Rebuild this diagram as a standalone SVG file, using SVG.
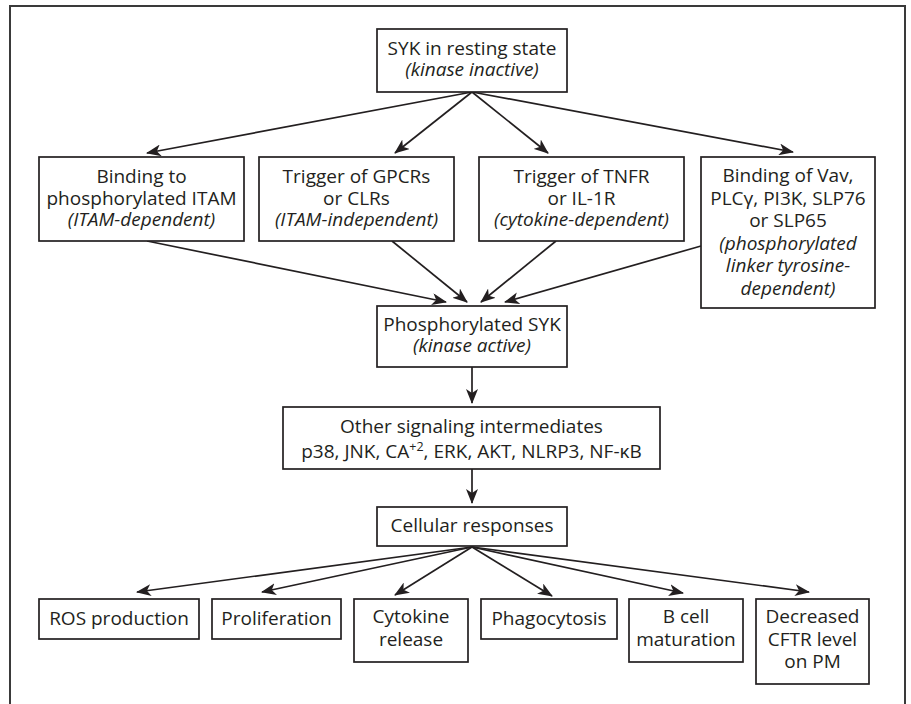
<svg xmlns="http://www.w3.org/2000/svg" width="911" height="704" viewBox="0 0 911 704">
<defs>
<marker id="ah" viewBox="0 0 15 12" refX="14" refY="6" markerWidth="15" markerHeight="12" markerUnits="userSpaceOnUse" orient="auto">
<path d="M0,0 L15,6 L0,12 L4,6 Z" fill="#231f20"/>
</marker>
<style>
.box{fill:#fff;stroke:#231f20;stroke-width:1.7}
.t{font-family:"Open Sans","Noto Sans",sans-serif;font-size:19px;fill:#231f20;text-anchor:middle}
.i{font-style:italic}
.c{stroke:#231f20;stroke-width:1.7;fill:none;marker-end:url(#ah)}
</style>
</defs>
<rect x="0" y="0" width="911" height="704" fill="#fff"/>
<path d="M10,704 L10,6 L905,6 L905,704" fill="none" stroke="#3a3a3a" stroke-width="2"/>

<g id="connectors">
<line class="c" x1="472" y1="92" x2="147" y2="153"/>
<line class="c" x1="472" y1="92" x2="395" y2="153"/>
<line class="c" x1="472" y1="92" x2="548" y2="153"/>
<line class="c" x1="472" y1="92" x2="793" y2="152"/>
<line class="c" x1="147" y1="241" x2="446" y2="302"/>
<line class="c" x1="392" y1="241" x2="467" y2="302"/>
<line class="c" x1="556" y1="241" x2="481" y2="302"/>
<line class="c" x1="701" y1="246" x2="505" y2="302"/>
<line class="c" x1="472" y1="367" x2="472" y2="403"/>
<line class="c" x1="472" y1="469" x2="472" y2="503"/>
<line class="c" x1="472" y1="547" x2="137" y2="592"/>
<line class="c" x1="472" y1="547" x2="262" y2="592"/>
<line class="c" x1="472" y1="547" x2="395" y2="595"/>
<line class="c" x1="472" y1="547" x2="552" y2="596"/>
<line class="c" x1="472" y1="547" x2="683" y2="593"/>
<line class="c" x1="472" y1="547" x2="809" y2="592"/>
</g>

<g id="syk-resting">
<rect class="box" x="377" y="29" width="190" height="63"/>
<text class="t" x="472" y="55">SYK in resting state</text>
<text class="t i" x="472" y="76">(kinase inactive)</text>
</g>

<g id="itam-dependent">
<rect class="box" x="39" y="157" width="205" height="84"/>
<text class="t" x="141.5" y="183">Binding to</text>
<text class="t" x="141.5" y="205">phosphorylated ITAM</text>
<text class="t i" x="141.5" y="226">(ITAM-dependent)</text>
</g>

<g id="itam-independent">
<rect class="box" x="259" y="157" width="195" height="84"/>
<text class="t" x="356.5" y="183">Trigger of GPCRs</text>
<text class="t" x="356.5" y="205">or CLRs</text>
<text class="t i" x="356.5" y="226">(ITAM-independent)</text>
</g>

<g id="cytokine-dependent">
<rect class="box" x="479" y="157" width="205" height="84"/>
<text class="t" x="581.5" y="183">Trigger of TNFR</text>
<text class="t" x="581.5" y="205">or IL-1R</text>
<text class="t i" x="581.5" y="226">(cytokine-dependent)</text>
</g>

<g id="linker-dependent">
<rect class="box" x="701" y="157" width="174" height="151"/>
<text class="t" x="788" y="182">Binding of Vav,</text>
<text class="t" x="788" y="204.5">PLCγ, PI3K, SLP76</text>
<text class="t" x="788" y="227">or SLP65</text>
<text class="t i" x="788" y="249.5">(phosphorylated</text>
<text class="t i" x="788" y="272">linker tyrosine-</text>
<text class="t i" x="788" y="294.5">dependent)</text>
</g>

<g id="syk-phosphorylated">
<rect class="box" x="377" y="306" width="190" height="61"/>
<text class="t" x="472" y="331">Phosphorylated SYK</text>
<text class="t i" x="472" y="352">(kinase active)</text>
</g>

<g id="intermediates">
<rect class="box" x="283" y="407" width="377" height="62"/>
<text class="t" x="471.5" y="433">Other signaling intermediates</text>
<text class="t" x="471.5" y="458">p38, JNK, CA<tspan font-size="12.5" dy="-7">+2</tspan><tspan dy="7">, ERK, AKT, NLRP3, NF-κB</tspan></text>
</g>

<g id="cellular-responses">
<rect class="box" x="377" y="507" width="190" height="39"/>
<text class="t" x="472" y="532">Cellular responses</text>
</g>

<g id="ros">
<rect class="box" x="39" y="599" width="160" height="40"/>
<text class="t" x="119" y="625">ROS production</text>
</g>

<g id="proliferation">
<rect class="box" x="212" y="599" width="129" height="40"/>
<text class="t" x="276.5" y="625">Proliferation</text>
</g>

<g id="cytokine-release">
<rect class="box" x="354" y="599" width="114" height="63"/>
<text class="t" x="411" y="623">Cytokine</text>
<text class="t" x="411" y="646">release</text>
</g>

<g id="phagocytosis">
<rect class="box" x="481" y="599" width="136" height="40"/>
<text class="t" x="549" y="625">Phagocytosis</text>
</g>

<g id="b-cell">
<rect class="box" x="629" y="599" width="114" height="63"/>
<text class="t" x="686" y="623">B cell</text>
<text class="t" x="686" y="646">maturation</text>
</g>

<g id="cftr">
<rect class="box" x="756" y="599" width="113" height="85"/>
<text class="t" x="812.5" y="623">Decreased</text>
<text class="t" x="812.5" y="646">CFTR level</text>
<text class="t" x="812.5" y="668">on PM</text>
</g>
</svg>
